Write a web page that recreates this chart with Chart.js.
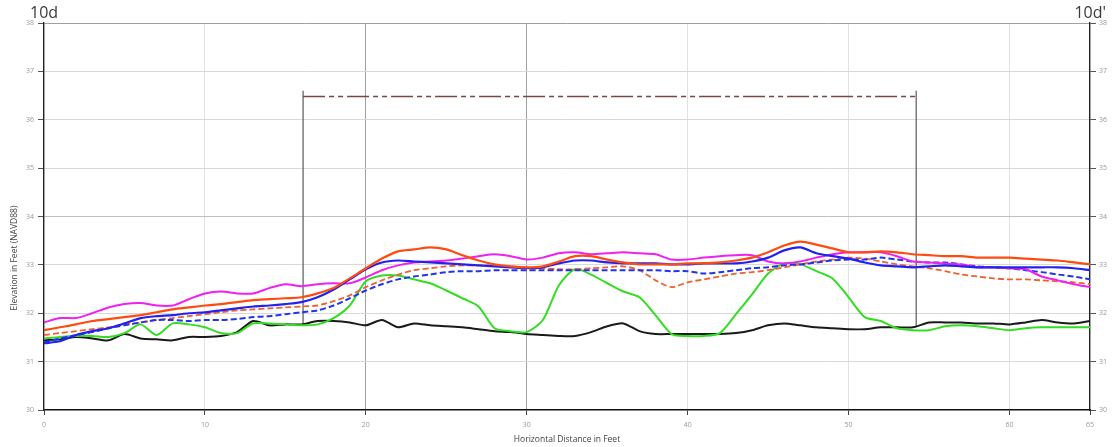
<!DOCTYPE html>
<html><head><meta charset="utf-8">
<script src="https://cdn.jsdelivr.net/npm/chart.js@4/dist/chart.umd.min.js"></script>
<style>html,body{margin:0;padding:0;background:#fff;}#wrap{width:1114px;height:447px;}</style>
</head><body><div id="wrap"><canvas id="c" width="1114" height="447"></canvas></div>
<script>
const distance = Array.from({length:66},(_, i)=>i); // feet, 0..65 every 1 ft
const xTickValues = [0,10,20,30,40,50,60,65];
const yTickValues = [30,31,32,33,34,35,36,37,38];
const sectionLeftLabel = "10d";
const sectionRightLabel = "10d'";
const xAxisTitle = "Horizontal Distance in Feet";
const yAxisTitle = "Elevation in Feet (NAVD88)";

const magenta = [31.81,31.90,31.90,32.00,32.12,32.19,32.21,32.16,32.16,32.29,32.41,32.45,32.41,32.41,32.52,32.60,32.56,32.60,32.62,32.62,32.74,32.89,32.99,33.05,33.07,33.09,33.13,33.18,33.22,33.18,33.11,33.15,33.24,33.26,33.22,33.24,33.26,33.24,33.22,33.11,33.11,33.15,33.18,33.20,33.20,33.07,33.03,33.07,33.15,33.22,33.26,33.26,33.26,33.18,33.07,33.05,33.03,33.01,32.95,32.95,32.93,32.91,32.76,32.68,32.60,32.54];
const redSolid = [31.65,31.71,31.77,31.84,31.88,31.92,31.96,32.02,32.08,32.12,32.16,32.19,32.23,32.27,32.29,32.31,32.33,32.41,32.52,32.72,32.93,33.13,33.28,33.32,33.36,33.32,33.20,33.09,33.01,32.97,32.95,32.97,33.07,33.18,33.18,33.11,33.05,33.01,33.01,33.01,33.03,33.03,33.05,33.09,33.15,33.26,33.40,33.48,33.42,33.34,33.26,33.26,33.28,33.26,33.22,33.20,33.18,33.18,33.15,33.15,33.15,33.13,33.11,33.09,33.05,33.01];
const blueSolid = [31.38,31.42,31.55,31.63,31.69,31.79,31.90,31.94,31.96,32.00,32.02,32.06,32.10,32.14,32.16,32.19,32.23,32.33,32.49,32.70,32.91,33.05,33.09,33.07,33.05,33.03,33.01,32.99,32.97,32.95,32.93,32.95,33.03,33.09,33.09,33.05,33.03,33.03,33.03,33.01,33.01,33.03,33.03,33.03,33.07,33.15,33.30,33.36,33.24,33.18,33.13,33.05,32.99,32.97,32.95,32.97,32.99,32.97,32.95,32.95,32.95,32.95,32.95,32.95,32.93,32.89];
const blueDashed = [31.40,31.48,31.55,31.61,31.69,31.75,31.81,31.86,31.86,31.84,31.86,31.86,31.88,31.92,31.94,31.98,32.02,32.06,32.16,32.31,32.47,32.60,32.70,32.76,32.80,32.85,32.87,32.87,32.89,32.89,32.89,32.89,32.89,32.89,32.89,32.89,32.89,32.89,32.89,32.87,32.87,32.82,32.85,32.89,32.93,32.95,32.99,33.01,33.05,33.09,33.11,33.11,33.15,33.11,33.07,33.05,33.05,33.01,32.97,32.95,32.93,32.89,32.85,32.80,32.76,32.70];
const redDashed = [31.55,31.59,31.63,31.67,31.71,31.77,31.81,31.86,31.90,31.94,31.98,32.02,32.06,32.08,32.10,32.12,32.14,32.16,32.25,32.37,32.54,32.68,32.80,32.89,32.93,32.97,32.99,32.99,32.99,32.97,32.95,32.93,32.91,32.91,32.93,32.95,32.97,32.89,32.68,32.54,32.64,32.70,32.76,32.82,32.85,32.89,32.95,33.01,33.07,33.11,33.15,33.13,33.07,33.01,32.97,32.93,32.87,32.80,32.76,32.72,32.70,32.70,32.68,32.66,32.64,32.60];
const green = [31.48,31.51,31.53,31.53,31.51,31.59,31.77,31.55,31.79,31.77,31.71,31.59,31.59,31.79,31.79,31.77,31.75,31.77,31.90,32.16,32.66,32.78,32.78,32.70,32.62,32.47,32.31,32.14,31.69,31.63,31.61,31.86,32.58,32.91,32.80,32.62,32.45,32.33,31.96,31.57,31.53,31.53,31.59,31.98,32.39,32.82,33.03,33.01,32.87,32.72,32.33,31.92,31.84,31.69,31.65,31.65,31.73,31.75,31.73,31.69,31.65,31.69,31.71,31.71,31.71,31.71];
const black = [31.44,31.46,31.51,31.48,31.44,31.57,31.48,31.46,31.44,31.51,31.51,31.53,31.61,31.84,31.75,31.77,31.77,31.84,31.84,31.81,31.75,31.86,31.71,31.79,31.75,31.73,31.71,31.67,31.63,31.61,31.57,31.55,31.53,31.53,31.61,31.73,31.79,31.63,31.57,31.57,31.57,31.57,31.57,31.59,31.65,31.75,31.79,31.75,31.71,31.69,31.67,31.67,31.71,31.71,31.71,31.81,31.81,31.81,31.79,31.79,31.77,31.81,31.86,31.81,31.79,31.84];

// bracket (structure limits) in feet / elevation
const bracketX = [16.1, 54.2];
const bracketLevel = 36.48;
const bracketTop = 36.6;
const bracketBottom = [31.78, 31.72];

const pts = arr => arr.map((v,i)=>({x:distance[i], y:v}));

const lineDs = (label, arr, color, dash, width) => ({
  label, data: pts(arr), borderColor: color, borderWidth: width||2,
  borderDash: dash||[], pointRadius: 0, tension: 0.25, fill: false
});

const datasets = [
  lineDs('Red', redSolid, '#ff4a10', null, 2.2),
  lineDs('Blue', blueSolid, '#2222ee', null, 2.2),
  lineDs('Magenta', magenta, '#f020f0', null, 2),
  lineDs('Blue dashed', blueDashed, '#2233ee', [6,3], 2),
  lineDs('Red dashed', redDashed, '#f06030', [6,3], 1.8),
  lineDs('Green', green, '#33dd22', null, 2),
  lineDs('Black', black, '#1a1a1a', null, 2),
  {label:'bracket', data:[{x:bracketX[0],y:bracketLevel},{x:bracketX[1],y:bracketLevel}], borderColor:'#7a4545', borderWidth:1.5, borderDash:[22,4,5,4,5,4], pointRadius:0},
  {label:'bracketL', data:[{x:bracketX[0],y:bracketTop},{x:bracketX[0],y:bracketBottom[0]}], borderColor:'#666', borderWidth:1.3, pointRadius:0},
  {label:'bracketR', data:[{x:bracketX[1],y:bracketTop},{x:bracketX[1],y:bracketBottom[1]}], borderColor:'#666', borderWidth:1.3, pointRadius:0}
];

const textPlugin = {
  id:'texts',
  afterDraw(chart){
    const ctx = chart.ctx; const a = chart.chartArea;
    ctx.save();
    ctx.fillStyle = '#3a3a3a';
    ctx.font = '16px "Open Sans", "DejaVu Sans", sans-serif';
    ctx.textBaseline = 'alphabetic';
    ctx.textAlign = 'left'; ctx.fillText(sectionLeftLabel, 30, 18);
    ctx.textAlign = 'right'; ctx.fillText(sectionRightLabel, 1106, 18);
    ctx.fillStyle = '#444';
    ctx.font = '8.5px "Open Sans", "DejaVu Sans", sans-serif';
    ctx.textAlign = 'center'; ctx.textBaseline = 'middle';
    ctx.fillText(xAxisTitle, (a.left+a.right)/2, 440);
    ctx.translate(15, 258); ctx.rotate(-Math.PI/2);
    ctx.fillText(yAxisTitle, 0, 0);
    ctx.restore();
  }
};

const xGridColor = ctx => {
  const v = ctx.tick && ctx.tick.value;
  if (v === 20 || v === 30) return '#a0a0a0';
  if (v === 0 || v === 65) return 'rgba(0,0,0,0)';
  return '#e2e2e2';
};
const yGridColor = ctx => {
  const v = ctx.tick && ctx.tick.value;
  if (v === 38) return '#a0a0a0';
  if (v === 34) return '#c0c0c0';
  if (v === 30) return 'rgba(0,0,0,0)';
  return '#d8d8d8';
};
const tickFont = {size:7, family:'"Open Sans", "DejaVu Sans", sans-serif'};

new Chart(document.getElementById('c'), {
  type:'line',
  data:{datasets},
  options:{
    responsive:false, animation:false, maintainAspectRatio:false,
    layout:{padding:{top:23,left:0,right:0,bottom:0}},
    plugins:{legend:{display:false}, tooltip:{enabled:false}},
    scales:{
      x:{type:'linear', min:0, max:65, position:'bottom',
        afterBuildTicks: s => { s.ticks = xTickValues.map(v=>({value:v})); },
        afterFit: s => { s.height = 37; },
        ticks:{color:'#999', font:tickFont, padding:6, maxRotation:0, autoSkip:false},
        grid:{color:xGridColor, tickColor:'#444', tickLength:5, lineWidth:1},
        border:{color:'#111', width:1.6}
      },
      y:{type:'linear', min:30, max:38, position:'left',
        afterBuildTicks: s => { s.ticks = yTickValues.map(v=>({value:v})); },
        afterFit: s => { s.width = 44; },
        ticks:{color:'#999', font:tickFont, padding:4},
        grid:{color:yGridColor, tickColor:'#555', tickLength:6, lineWidth:1},
        border:{color:'#222', width:1.4}
      },
      y2:{type:'linear', min:30, max:38, position:'right',
        afterBuildTicks: s => { s.ticks = yTickValues.map(v=>({value:v})); },
        afterFit: s => { s.width = 24; },
        ticks:{color:'#999', font:tickFont, padding:3},
        grid:{drawOnChartArea:false, tickColor:'#555', tickLength:6},
        border:{color:'#222', width:1.4}
      }
    }
  },
  plugins:[textPlugin]
});
</script></body></html>
